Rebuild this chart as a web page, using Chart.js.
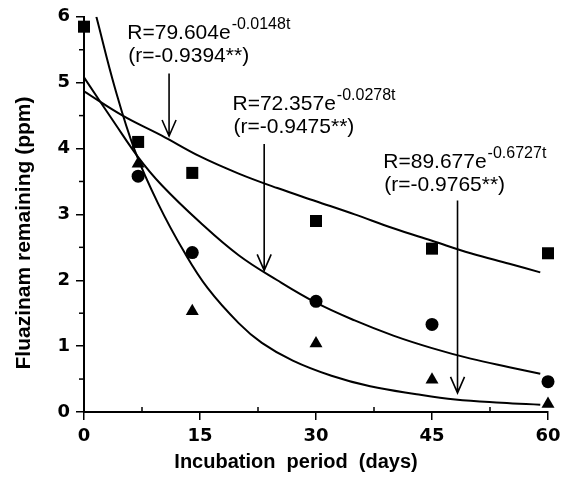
<!DOCTYPE html>
<html>
<head>
<meta charset="utf-8">
<script src="https://cdn.jsdelivr.net/npm/chart.js@4.4.0/dist/chart.umd.min.js"></script>
<style>
  html, body { margin: 0; padding: 0; background: #fff; }
  #wrap { width: 568px; height: 481px; }
</style>
</head>
<body>
<div id="wrap"><canvas id="chart"></canvas></div>
<script>
// Sampling days and measured residues (ppm)
const days = [0, 7, 14, 30, 45, 60];
const squareVals = [5.85, 4.1, 3.63, 2.9, 2.48, 2.41];
const circleVals = [null, 3.58, 2.42, 1.68, 1.33, 0.46];
const triangleVals = [null, 3.77, 1.53, 1.04, 0.49, 0.12];

// Fitted curves
const fitDaysSquare = [0, 5, 10, 15, 20, 25, 30, 35, 40, 45, 50, 55, 59];
const fitSquare = [4.87, 4.5, 4.2, 3.88, 3.62, 3.4, 3.2, 3.0, 2.79, 2.6, 2.41, 2.25, 2.12];
const fitDaysCircle = [0, 4, 7, 10, 15, 20, 25, 30, 35, 40, 45, 50, 55, 59];
const fitCircle = [5.08, 4.38, 3.87, 3.45, 2.88, 2.38, 2.0, 1.66, 1.39, 1.16, 0.97, 0.81, 0.68, 0.58];
const fitDaysTriangle = [1.6, 4, 6.6, 9.6, 13, 16, 20, 23, 27, 32, 37, 43, 48, 54, 59];
const fitTriangle = [6.0, 4.92, 3.96, 3.16, 2.42, 1.88, 1.35, 1.05, 0.78, 0.55, 0.39, 0.27, 0.19, 0.14, 0.11];

// Equation labels: [day, ppm of first baseline, main text, exponent, r text]
const eqLabels = [
  [5.6, 5.66, 'R=79.604e', '-0.0148t', '(r=-0.9394**)'],
  [19.2, 4.58, 'R=72.357e', '-0.0278t', '(r=-0.9475**)'],
  [38.7, 3.7, 'R=89.677e', '-0.6727t', '(r=-0.9765**)']
];
// Arrows: [day, from ppm, to ppm]
const arrows = [
  [11, 5.14, 4.19],
  [23.3, 4.07, 2.15],
  [48.3, 3.21, 0.29]
];

const xTicks = [0, 15, 30, 45, 60];
const yTicks = [0, 1, 2, 3, 4, 5, 6];
const xTitle = 'Incubation  period  (days)';
const yTitle = 'Fluazinam remaining (ppm)';

function pairs(xs, ys) {
  return xs.map((x, i) => ({ x: x, y: ys[i] })).filter(p => p.y !== null);
}

function pointSet(vals, style, r) {
  return {
    data: pairs(days, vals),
    showLine: false,
    pointStyle: style,
    pointRadius: r,
    backgroundColor: '#000',
    borderColor: '#000',
    borderWidth: 0,
    clip: false
  };
}

function curveSet(xs, ys) {
  return {
    data: pairs(xs, ys),
    showLine: true,
    borderColor: '#000',
    borderWidth: 2,
    pointRadius: 0,
    tension: 0.4
  };
}

const sansFam = '"Liberation Sans", Arial, sans-serif';

// minor ticks, axis titles, equation text and arrows
const extras = {
  id: 'extras',
  afterDraw(chart) {
    const ctx = chart.ctx;
    const xs = chart.scales.x, ys = chart.scales.y;
    const area = chart.chartArea;
    ctx.save();
    ctx.strokeStyle = '#000';
    ctx.lineWidth = 1.5;
    for (let v = 0.5; v < 6; v += 1) {
      const py = ys.getPixelForValue(v);
      ctx.beginPath(); ctx.moveTo(area.left - 5, py); ctx.lineTo(area.left, py); ctx.stroke();
    }
    for (let v = 7.5; v < 60; v += 15) {
      const px = xs.getPixelForValue(v);
      ctx.beginPath(); ctx.moveTo(px, area.bottom); ctx.lineTo(px, area.bottom - 5); ctx.stroke();
    }

    ctx.fillStyle = '#000';
    ctx.textAlign = 'center';
    ctx.textBaseline = 'middle';
    ctx.font = 'bold 20px ' + sansFam;
    ctx.fillText(xTitle, 296, 462);
    ctx.save();
    ctx.translate(24, 233);
    ctx.rotate(-Math.PI / 2);
    ctx.font = 'bold 21px ' + sansFam;
    ctx.fillText(yTitle, 0, 0);
    ctx.restore();

    ctx.textBaseline = 'alphabetic';
    ctx.textAlign = 'left';
    eqLabels.forEach(l => {
      const px = xs.getPixelForValue(l[0]);
      const py = ys.getPixelForValue(l[1]);
      ctx.font = '21px ' + sansFam;
      ctx.fillText(l[2], px, py);
      const w = ctx.measureText(l[2]).width;
      ctx.font = '16px ' + sansFam;
      ctx.fillText(l[3], px + w + 1, py - 10);
      ctx.font = '21px ' + sansFam;
      ctx.fillText(l[4], px + 1, py + 23);
    });

    ctx.lineWidth = 1.6;
    arrows.forEach(a => {
      const px = xs.getPixelForValue(a[0]);
      const y0 = ys.getPixelForValue(a[1]);
      const y1 = ys.getPixelForValue(a[2]);
      ctx.beginPath();
      ctx.moveTo(px, y0); ctx.lineTo(px, y1);
      ctx.moveTo(px - 7, y1 - 16); ctx.lineTo(px, y1); ctx.lineTo(px + 7, y1 - 16);
      ctx.stroke();
    });
    ctx.restore();
  }
};

const tickFont = { family: '"DejaVu Sans", sans-serif', size: 18, weight: 'bold' };

new Chart(document.getElementById('chart'), {
  type: 'scatter',
  data: {
    datasets: [
      pointSet(squareVals, 'rect', 8.5),
      pointSet(circleVals, 'circle', 6.5),
      pointSet(triangleVals, 'triangle', 7.5),
      curveSet(fitDaysSquare, fitSquare),
      curveSet(fitDaysCircle, fitCircle),
      curveSet(fitDaysTriangle, fitTriangle)
    ]
  },
  options: {
    responsive: true,
    maintainAspectRatio: false,
    animation: false,
    layout: { padding: { top: 14, right: 20, left: 0, bottom: 0 } },
    plugins: { legend: { display: false }, tooltip: { enabled: false } },
    scales: {
      x: {
        type: 'linear',
        min: 0,
        max: 60,
        afterBuildTicks: s => { s.ticks = xTicks.map(v => ({ value: v })); },
        afterFit: s => { s.height = 69; },
        ticks: { color: '#000', font: tickFont, padding: 6, maxRotation: 0 },
        grid: { drawOnChartArea: false, color: '#000', tickLength: 8, lineWidth: 1.5 },
        border: { color: '#000', width: 2 }
      },
      y: {
        type: 'linear',
        min: 0,
        max: 6,
        afterBuildTicks: s => { s.ticks = yTicks.map(v => ({ value: v })); },
        afterFit: s => { s.width = 84; },
        ticks: { color: '#000', font: tickFont, padding: 6 },
        grid: { drawOnChartArea: false, color: '#000', tickLength: 8, lineWidth: 1.5 },
        border: { color: '#000', width: 2 }
      }
    }
  },
  plugins: [extras]
});
</script>
</body>
</html>
